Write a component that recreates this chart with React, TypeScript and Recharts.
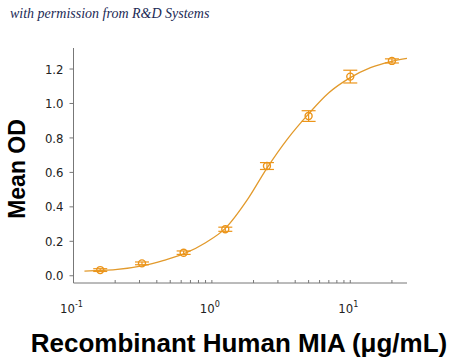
import React from 'react';
import { ComposedChart, Line, Scatter, ErrorBar, XAxis, YAxis, Label } from 'recharts';

// measured points (μg/mL, mean OD, error)
const conc = [0.156, 0.3125, 0.625, 1.25, 2.5, 5, 10, 20];
const meanOD = [0.033, 0.072, 0.134, 0.27, 0.637, 0.927, 1.156, 1.247];
const odErr = [0.008, 0.008, 0.01, 0.012, 0.02, 0.031, 0.037, 0.012];

// fitted curve
const fitConc = [0.12, 0.156, 0.2, 0.3125, 0.45, 0.625, 0.9, 1.25, 1.8, 2.5, 3.5, 5, 7, 10, 14, 20, 25.7];
const fitOD = [0.027, 0.031, 0.036, 0.058, 0.09, 0.127, 0.192, 0.275, 0.44, 0.625, 0.792, 0.94, 1.062, 1.15, 1.208, 1.245, 1.262];

const yTicks = [0, 0.2, 0.4, 0.6, 0.8, 1.0, 1.2];
const xTicks = [0.1, 0.2, 0.3, 0.4, 0.5, 0.6, 0.7, 0.8, 0.9, 1, 2, 3, 4, 5, 6, 7, 8, 9, 10, 20];
const decadeLabels: Record<string, string> = { '0.1': '-1', '1': '0', '10': '1' };

const points = conc.map((c, i) => ({ conc: c, od: meanOD[i], err: odErr[i] }));
const curve = fitConc.map((c, i) => ({ conc: c, od: fitOD[i] }));

const ORANGE = '#EC951A';
const LINE = '#E29A2C';
const NARROW = '"Liberation Sans Narrow", "DejaVu Sans Condensed", "Roboto", sans-serif';

const XTick = (props: any) => {
  const { x, payload } = props;
  const sup = decadeLabels[String(payload.value)];
  if (sup === undefined) return null;
  return (
    <text x={x - 2} y={313} textAnchor="middle" fontFamily={NARROW} fontSize={13} fill="#222">
      10
      <tspan dy={-6} fontSize={9}>{sup}</tspan>
    </text>
  );
};

const Marker = (props: any) => (
  <circle cx={props.cx} cy={props.cy} r={3.5} fill="none" stroke={ORANGE} strokeWidth={1.4} />
);

export default function App() {
  return (
    <div style={{ position: 'absolute', left: 0, top: 0, width: 450, height: 361, background: '#fff' }}>
      <div
        style={{
          position: 'absolute',
          left: 10,
          top: 6,
          fontFamily: '"Liberation Serif", serif',
          fontStyle: 'italic',
          fontSize: 14,
          color: '#1c2a55',
          whiteSpace: 'nowrap',
        }}
      >
        with permission from R&amp;D Systems
      </div>
      <ComposedChart width={450} height={361} margin={{ top: 48, right: 43, left: 0, bottom: 0 }}>
        <XAxis
          dataKey="conc"
          type="number"
          scale="log"
          domain={[0.1, 25.7]}
          allowDataOverflow
          ticks={xTicks}
          interval={0}
          height={78}
          tickSize={-3}
          tickLine={{ stroke: '#777' }}
          axisLine={{ stroke: '#777' }}
          tick={<XTick />}
        >
          <Label
            content={() => (
              <text x={239} y={352} textAnchor="middle" fontFamily="Arial, 'Liberation Sans', sans-serif" fontWeight="bold" fontSize={26} fill="#000">
                Recombinant Human MIA (μg/mL)
              </text>
            )}
          />
        </XAxis>
        <YAxis
          dataKey="od"
          type="number"
          domain={[-0.042, 1.322]}
          allowDataOverflow
          ticks={yTicks}
          interval={0}
          width={73.5}
          tickSize={4}
          tickMargin={6}
          tickLine={{ stroke: '#777' }}
          axisLine={{ stroke: '#777' }}
          tick={{ fontFamily: NARROW, fontSize: 13, fill: '#222' }}
          tickFormatter={(v: number) => v.toFixed(1)}
        >
          <Label
            content={() => (
              <text
                x={25}
                y={169}
                transform="rotate(-90 25 169)"
                textAnchor="middle"
                fontFamily="Arial, 'Liberation Sans', sans-serif"
                fontWeight="bold"
                fontSize={23}
                fill="#000"
              >
                Mean OD
              </text>
            )}
          />
        </YAxis>
        <Line
          data={curve}
          dataKey="od"
          type="monotone"
          stroke={LINE}
          strokeWidth={1.3}
          dot={false}
          activeDot={false}
          isAnimationActive={false}
        />
        <Scatter data={points} dataKey="od" shape={<Marker />} isAnimationActive={false}>
          <ErrorBar dataKey="err" direction="y" width={7} stroke={ORANGE} strokeWidth={1.2} />
        </Scatter>
      </ComposedChart>
    </div>
  );
}
